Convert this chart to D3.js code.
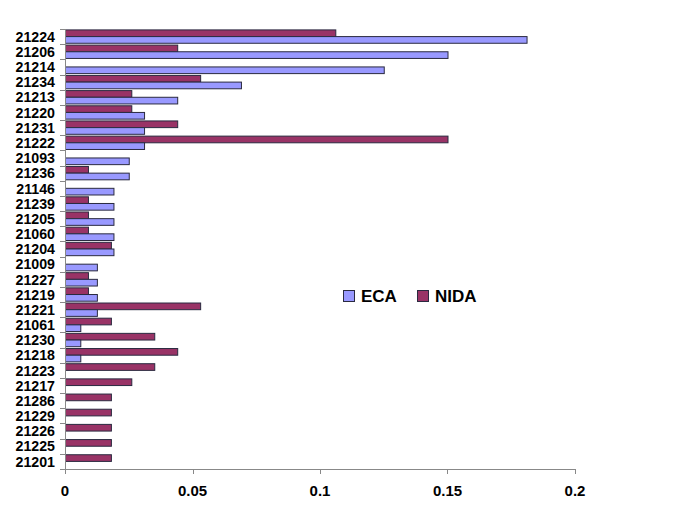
<!DOCTYPE html>
<html><head><meta charset="utf-8">
<script src="https://cdn.jsdelivr.net/npm/d3@7/dist/d3.min.js"></script>
<style>body{margin:0;background:#fff}svg{display:block}text{font-family:"Liberation Sans",Arial,sans-serif;font-weight:bold}</style>
</head><body><svg id="c" width="685" height="513"></svg>
<script>
const categories = ["21224","21206","21214","21234","21213","21220","21231","21222","21093","21236","21146","21239","21205","21060","21204","21009","21227","21219","21221","21061","21230","21218","21223","21217","21286","21229","21226","21225","21201"];
const seriesNames = ["ECA","NIDA"];
const ecaValues  = [0.181,0.150,0.125,0.069,0.044,0.031,0.031,0.031,0.025,0.025,0.019,0.019,0.019,0.019,0.019,0.0125,0.0125,0.0125,0.0125,0.006,0.006,0.006,0,0,0,0,0,0,0];
const nidaValues = [0.106,0.044,0,0.053,0.026,0.026,0.044,0.150,0,0.009,0,0.009,0.009,0.009,0.018,0,0.009,0.009,0.053,0.018,0.035,0.044,0.035,0.026,0.018,0.018,0.018,0.018,0.018];
const xTicks = [0,0.05,0.1,0.15,0.2];
const xTickLabels = ["0","0.05","0.1","0.15","0.2"];
const colors = {ECA:"#9999FF", NIDA:"#993366"};

(function(){
const svg = d3.select("#c");
const L = 65, R = 575, T = 29, B = 469;
const x = d3.scaleLinear().domain([0,0.2]).range([L,R]);
const y = d3.scaleBand().domain(categories).range([T,B]).paddingInner(0.12).paddingOuter(0.06);
const sub = d3.scaleBand().domain(["NIDA","ECA"]).range([0,y.bandwidth()]);

const data = categories.map((c,i)=>({cat:c, ECA:ecaValues[i], NIDA:nidaValues[i]}));

const g = svg.append("g");
data.forEach(d=>{
  ["NIDA","ECA"].forEach(s=>{
    if(d[s] > 0){
      g.append("rect")
        .attr("x", x(0)+0.5)
        .attr("y", y(d.cat)+sub(s))
        .attr("width", x(d[s])-x(0))
        .attr("height", sub.bandwidth())
        .attr("fill", colors[s])
        .attr("stroke", "#2a2a40")
        .attr("stroke-width", 1);
    }
  });
});

const yStep = (B-T)/categories.length;
svg.append("line").attr("x1",L+0.5).attr("x2",L+0.5).attr("y1",T).attr("y2",B).attr("stroke","#888");
d3.range(categories.length+1).forEach(i=>{
  const yy = Math.round(T + i*yStep)+0.5;
  svg.append("line").attr("x1",L-5).attr("x2",L).attr("y1",yy).attr("y2",yy).attr("stroke","#888");
});
categories.forEach((c,i)=>{
  svg.append("text").attr("x",55).attr("y",T+(i+0.5)*yStep+5.2).attr("text-anchor","end")
    .attr("font-size","14.2px").attr("fill","#000").text(c);
});

svg.append("line").attr("x1",L).attr("x2",R).attr("y1",B+0.5).attr("y2",B+0.5).attr("stroke","#888");
xTicks.forEach((t,i)=>{
  const xx = Math.round(x(t))+0.5;
  svg.append("line").attr("x1",xx).attr("x2",xx).attr("y1",B).attr("y2",B+5).attr("stroke","#888");
  svg.append("text").attr("x",x(t)).attr("y",496).attr("text-anchor","middle").attr("font-size","15px").text(xTickLabels[i]);
});

const leg = [{n:"ECA",x:343},{n:"NIDA",x:417}];
leg.forEach(l=>{
  svg.append("rect").attr("x",l.x+0.5).attr("y",290.5).attr("width",11).attr("height",11)
    .attr("fill",colors[l.n]).attr("stroke","#2a2a40");
  svg.append("text").attr("x",l.x+18).attr("y",302).attr("font-size","17px").text(l.n);
});
})();
</script></body></html>
